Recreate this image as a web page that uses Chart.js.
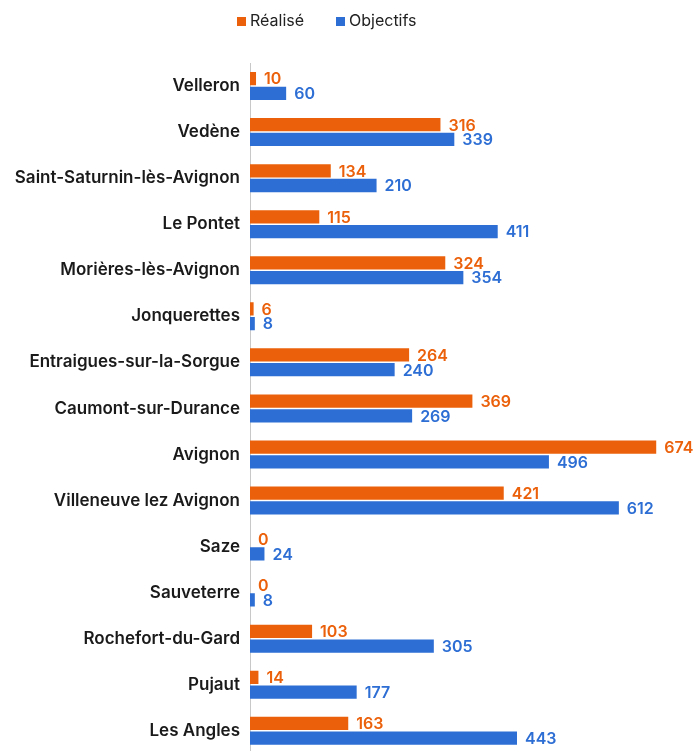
<!DOCTYPE html>
<html>
<head>
<meta charset="utf-8">
<script src="https://cdn.jsdelivr.net/npm/chart.js@4.4.0/dist/chart.umd.min.js"></script>
<style>
html,body{margin:0;padding:0;background:#fff;overflow:hidden;}
#legend{position:absolute;top:10px;left:0;width:696px;height:20px;font-family:Inter,sans-serif;font-size:16px;color:#222;}
#legend span.item{position:absolute;top:0;line-height:20px;white-space:nowrap;}
#legend span.box{display:inline-block;width:9px;height:9px;margin-right:4px;vertical-align:0px;}
#wrap{width:696px;height:774px;position:absolute;top:0;left:0;}
</style>
</head>
<body>
<div id="wrap"><canvas id="c"></canvas></div>
<div id="legend"></div>
<script>
const categories = ["Velleron","Vedène","Saint-Saturnin-lès-Avignon","Le Pontet","Morières-lès-Avignon","Jonquerettes","Entraigues-sur-la-Sorgue","Caumont-sur-Durance","Avignon","Villeneuve lez Avignon","Saze","Sauveterre","Rochefort-du-Gard","Pujaut","Les Angles"];
const realise = [10,316,134,115,324,6,264,369,674,421,0,0,103,14,163];
const objectifs = [60,339,210,411,354,8,240,269,496,612,24,8,305,177,443];
const seriesNames = ["Réalisé","Objectifs"];
const ORANGE = "#EB600A", BLUE = "#2D6ED4";
const FONT = "Inter, sans-serif";

const valueLabels = {
  id:'valueLabels',
  afterDatasetsDraw(chart){
    const ctx = chart.ctx;
    ctx.save();
    ctx.font = "600 16px " + FONT;
    ctx.textBaseline = 'middle';
    ctx.textAlign = 'left';
    chart.data.datasets.forEach((ds,i)=>{
      const meta = chart.getDatasetMeta(i);
      ctx.fillStyle = ds.backgroundColor;
      meta.data.forEach((bar,j)=>{
        ctx.fillText(String(ds.data[j]), bar.x + 8, bar.y + 1);
      });
    });
    ctx.restore();
  }
};

const chart = new Chart(document.getElementById('c'), {
  type:'bar',
  data:{
    labels:categories,
    datasets:[
      {label:seriesNames[0], data:realise, backgroundColor:ORANGE, barPercentage:0.9, categoryPercentage:0.64},
      {label:seriesNames[1], data:objectifs, backgroundColor:BLUE, barPercentage:0.9, categoryPercentage:0.64}
    ]
  },
  options:{
    indexAxis:'y',
    responsive:true,
    maintainAspectRatio:false,
    animation:false,
    layout:{padding:{left:0,right:0,top:63,bottom:0}},
    plugins:{
      tooltip:{enabled:false},
      legend:{display:false}
    },
    scales:{
      x:{
        min:0,max:740,display:false,
        grid:{display:false}
      },
      y:{
        grid:{display:false,drawTicks:false},
        border:{display:true,color:'#c8c8c8',width:1},
        ticks:{color:'#1a1a1a',padding:10,font:{family:FONT,size:17,weight:'600'}},
        afterFit(scale){ scale.width = 250; }
      }
    }
  },
  plugins:[valueLabels]
});

// HTML legend built from the dataset names/colours
const lg = document.getElementById('legend');
const lefts = [237, 336];
chart.data.datasets.forEach((ds,i)=>{
  const it = document.createElement('span');
  it.className = 'item';
  it.style.left = lefts[i] + 'px';
  const b = document.createElement('span');
  b.className = 'box';
  b.style.background = ds.backgroundColor;
  it.appendChild(b);
  it.appendChild(document.createTextNode(ds.label));
  lg.appendChild(it);
});
</script>
</body>
</html>
